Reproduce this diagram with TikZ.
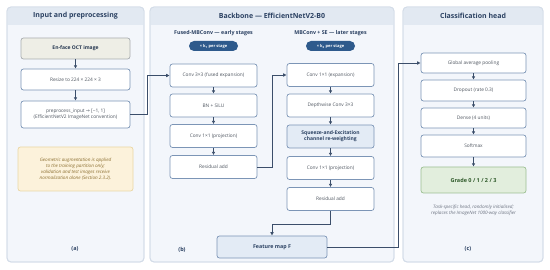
\documentclass[tikz,border=0pt]{standalone}
\usepackage{fontspec}
\setmainfont{Open Sans}
\newfontfamily\djv{DejaVu Sans}
\usetikzlibrary{arrows.meta}
\definecolor{panelbg}{HTML}{F3F6FB}
\definecolor{panelbd}{HTML}{D3DCE8}
\definecolor{hdr}{HTML}{E2E9F2}
\definecolor{ttl}{HTML}{2B4162}
\definecolor{boxbd}{HTML}{7C95B6}
\definecolor{boxtx}{HTML}{4F5660}
\definecolor{inpbg}{HTML}{EEEEE6}
\definecolor{inpbd}{HTML}{A9ADB0}
\definecolor{notebg}{HTML}{FCF2DB}
\definecolor{notebd}{HTML}{EAD7A4}
\definecolor{notetx}{HTML}{8A6D2E}
\definecolor{hlbg}{HTML}{E3EBF5}
\definecolor{grbg}{HTML}{E2EEDD}
\definecolor{grbd}{HTML}{9CC093}
\definecolor{grtx}{HTML}{2F5A2A}
\definecolor{pill}{HTML}{2E5A8C}
\definecolor{arrc}{HTML}{3B4E6A}
\definecolor{captx}{HTML}{6B7280}
\tikzset{
  panel/.style={fill=panelbg,draw=panelbd,line width=0.8pt,rounded corners=4pt},
  ptitle/.style={font=\fontsize{7}{8}\selectfont\bfseries,text=ttl},
  stitle/.style={font=\fontsize{5.3}{6}\selectfont\bfseries,text=ttl},
  blk/.style={draw=boxbd,fill=white,line width=0.7pt,rounded corners=2.5pt,minimum width=87pt,minimum height=23pt,inner sep=1pt,align=center,font=\fontsize{4.8}{6}\selectfont,text=boxtx},
  hblk/.style={blk,minimum width=105pt},
  pblk/.style={blk,minimum width=109pt},
  hl/.style={fill=hlbg,font=\fontsize{5}{6.2}\selectfont\bfseries,text=ttl},
  pillbox/.style={fill=pill,rounded corners=5pt,minimum width=49pt,minimum height=10pt,inner sep=0pt,text=white,font=\fontsize{4}{5}\selectfont\bfseries},
  arr/.style={draw=arrc,line width=0.9pt,-{Latex[length=3.2pt,width=3.4pt]}},
  conn/.style={draw=arrc,line width=0.9pt,-{Latex[length=3.5pt,width=3.8pt]}},
  captxt/.style={font=\fontsize{5.5}{6}\selectfont\bfseries,text=ttl},
  noteit/.style={font=\fontsize{4.6}{6.1}\selectfont\itshape,align=center}
}
\begin{document}
\begin{tikzpicture}[x=1pt,y=-1pt]
\useasboundingbox (0,0) rectangle (550,270);
\fill[white] (0,0) rectangle (550,270);
% panels
\foreach \xa/\xb in {7/144,150/394,403/543}{
  \path[panel] (\xa,7) rectangle (\xb,262);
  \fill[hdr] (\xa+0.4,25) [rounded corners=3.6pt]-- (\xa+0.4,7.4) -- (\xb-0.4,7.4) [sharp corners]-- (\xb-0.4,25) -- cycle;
  \draw[panelbd,line width=0.8pt,rounded corners=4pt] (\xa,7) rectangle (\xb,262);
}
\node[ptitle] (t1) at (75.5,15.5) {Input and preprocessing};
\node[ptitle] (t2) at (272,15.5) {Backbone — EfficientNetV2-B0};
\node[ptitle] (t3) at (473,15.5) {Classification head};
% panel a
\node[pblk,fill=inpbg,draw=inpbd,minimum height=21pt,font=\fontsize{5}{6}\selectfont\bfseries,text=ttl!80!black] (inp) at (75.5,48.5) {En-face OCT image};
\node[pblk,minimum height=21pt] (rsz) at (75.5,79.5) {Resize to 224 × 224 × 3};
\node[pblk,minimum height=27pt] (pre) at (75.5,114.5) {preprocess\_input {\djv →} [−1, 1]\\(EfficientNetV2 ImageNet convention)};
\node[draw=notebd,fill=notebg,line width=0.7pt,rounded corners=2.5pt,minimum width=115pt,minimum height=44pt,inner sep=1pt,noteit,text=notetx] (note1) at (75.5,169) {Geometric augmentation is applied\\to the training partition only;\\validation and test images receive\\normalization alone (Section 2.3.2).};
\node[captxt] (ca) at (75,249) {(a)};
\draw[arr] (inp) -- (rsz);
\draw[arr] (rsz) -- (pre);
% panel b
\node[stitle] (s1) at (213.5,33) {Fused-MBConv — early stages};
\node[pillbox] (p1) at (213.5,46) {× k\textsubscript{1} per stage};
\node[stitle] (s2) at (330.5,33) {MBConv + SE — later stages};
\node[pillbox] (p2) at (330.5,46) {× k\textsubscript{2} per stage};
\node[blk] (l1) at (213.5,75.5) {Conv 3×3 (fused expansion)};
\node[blk] (l2) at (213.5,105.5) {BN + SiLU};
\node[blk] (l3) at (213.5,136) {Conv 1×1 (projection)};
\node[blk] (l4) at (213.5,167) {Residual add};
\node[blk] (r1) at (330.5,75) {Conv 1×1 (expansion)};
\node[blk] (r2) at (330.5,105.5) {Depthwise Conv 3×3};
\node[blk,hl] (r3) at (330.5,136.5) {Squeeze-and-Excitation\\channel re-weighting};
\node[blk] (r4) at (330.5,168) {Conv 1×1 (projection)};
\node[blk] (r5) at (330.5,199) {Residual add};
\node[blk,hl,minimum width=110pt,minimum height=22pt,font=\fontsize{5.3}{6.2}\selectfont\bfseries] (fm) at (272,247) {Feature map F};
\node[captxt] (cb) at (182,250) {(b)};
\draw[arr] (l1) -- (l2);
\draw[arr] (l2) -- (l3);
\draw[arr] (l3) -- (l4);
\draw[arr] (r1) -- (r2);
\draw[arr] (r2) -- (r3);
\draw[arr] (r3) -- (r4);
\draw[arr] (r4) -- (r5);
% panel c
\node[hblk,minimum height=20pt] (h1) at (473.5,63) {Global average pooling};
\node[hblk,minimum height=21pt] (h2) at (473.5,90.5) {Dropout (rate 0.3)};
\node[hblk,minimum height=20pt] (h3) at (473.5,118) {Dense (4 units)};
\node[hblk,minimum height=22pt] (h4) at (473.5,146) {Softmax};
\node[hblk,minimum height=26pt,fill=grbg,draw=grbd,font=\fontsize{5.5}{6.5}\selectfont\bfseries,text=grtx] (h5) at (473.5,180) {Grade 0 / 1 / 2 / 3};
\node[noteit,text=captx] (note2) at (473.5,210) {Task-specific head, randomly initialised;\\replaces the ImageNet 1000-way classifier};
\node[captxt] (cc) at (468,249) {(c)};
\draw[arr] (h1) -- (h2);
\draw[arr] (h2) -- (h3);
\draw[arr] (h3) -- (h4);
\draw[arr] (h4) -- (h5);
% connectors
\coordinate (k1) at (147,0);
\coordinate (k2) at (272,0);
\coordinate (k3) at (398,0);
\draw[conn] (pre.east) -- (pre.east -| k1) |- (l1.west);
\draw[conn] (l4.east) -- (l4.east -| k2) |- (r1.west);
\draw[conn] (r5.south) -- ++(0,14) -| (fm.north);
\draw[conn] (fm.east) -- (fm.east -| k3) |- (h1.west);
\end{tikzpicture}
\end{document}
